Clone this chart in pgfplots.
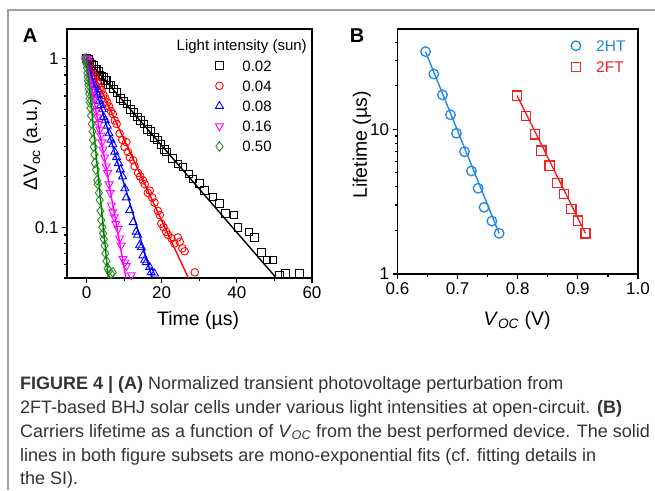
\documentclass[border=0pt]{standalone}
\usepackage{fontspec}
\setmainfont{Liberation Sans}
\usepackage{pgfplots}
\pgfplotsset{compat=1.18}
\definecolor{cred}{HTML}{FF0000}
\definecolor{cblue}{HTML}{0000FF}
\definecolor{cmag}{HTML}{FF00FF}
\definecolor{cgreen}{HTML}{2E8B2E}
\definecolor{cgline}{HTML}{008000}
\definecolor{hblue}{HTML}{2288E0}
\definecolor{fred}{HTML}{EE2222}
\definecolor{capgray}{HTML}{333333}

\pgfplotsset{
  panel/.style={
    scale only axis,
    axis line style={line width=1.6pt},
    tick align=outside,
    xtick pos=bottom, ytick pos=left,
    major tick length=5pt, minor tick length=3pt,
    every tick/.style={black, line width=1.2pt},
    tick label style={font=\fontsize{17}{17}\selectfont},
    /pgf/number format/assume math mode=true,
    label style={font=\fontsize{19.5}{19.5}\selectfont},
    clip mode=individual,
    legend image code/.code={\draw[##1] plot coordinates {(0pt,0pt)};},
  },
}

\begin{document}
\begin{tikzpicture}[x=1pt,y=1pt]
\useasboundingbox (0,0) rectangle (655,-490);
\draw[gray!75, line width=1.2pt] (8,-490) -- (8,-10) -- (655,-10);

% panel A
\begin{axis}[panel,
  at={(67pt,-278pt)}, anchor=south west,
  width=245pt, height=249pt,
  xmin=-5.2, xmax=60,
  ymode=log, ymin=0.05, ymax=1.5,
  xtick={0,20,40,60}, minor xtick={10,30,50},
  ytick={0.1,1}, yticklabels={0.1,1},
  minor ytick={0.05,0.06,0.07,0.08,0.09,0.2,0.3,0.4,0.5,0.6,0.7,0.8,0.9},
  xlabel={Time (µs)},
  ylabel={ΔV\textsubscript{oc} (a.u.)},
  xlabel style={at={(axis description cs:0.535,-0.169)}, anchor=center},
  ylabel style={at={(axis description cs:-0.143,0.534)}, anchor=center},
  legend style={draw=none, fill=none, inner sep=0pt, outer sep=0pt,
    at={(axis description cs:0.606,0.875)}, anchor=north west,
    nodes={inner sep=0pt, text height=11pt, text depth=0pt, font=\fontsize{15}{15}\selectfont},
    row sep=9.2pt, column sep=19pt},
  legend cell align=left,
]
\addplot[only marks, mark=square, mark size=3.8pt, black, line width=0.9pt] coordinates {
(0,1.0)(0.5,0.99)(0.9,0.95)(1.4,0.93)(1.8,0.91)(2.3,0.87)(2.7,0.86)(3.2,0.84)(3.6,0.80)
(4.1,0.79)(4.5,0.78)(5.0,0.74)(5.4,0.74)(5.9,0.70)(6.3,0.70)(7.2,0.66)(8.1,0.63)(9.0,0.58)
(9.9,0.56)(10.8,0.54)(11.7,0.50)(12.6,0.48)(13.5,0.45)(14.4,0.43)(15.3,0.41)(16.2,0.38)
(17.1,0.37)(18.0,0.34)(18.9,0.33)(19.8,0.31)(20.7,0.29)(21.2,0.279)(22.8,0.255)(24.3,0.238)
(25.7,0.228)(27.3,0.207)(28.3,0.194)(30.1,0.182)(31.4,0.166)(33.6,0.151)(35.4,0.138)
(37.0,0.121)(39.2,0.118)(40.3,0.100)(43.2,0.094)(44.7,0.087)(46.5,0.071)(48.0,0.064)
(49.6,0.064)(51.4,0.052)(53.0,0.053)(56.7,0.053)
};
\addlegendentry{0.02}
\addplot[only marks, mark=o, mark size=3.8pt, cred, line width=0.9pt] coordinates {
(0,1.0)(0.4,0.97)(0.8,0.92)(1.2,0.88)(1.6,0.85)(2.0,0.80)(2.4,0.78)(2.8,0.73)(3.2,0.71)
(3.6,0.67)(4.0,0.65)(4.5,0.61)(5.0,0.58)(5.5,0.55)(6.0,0.52)(6.5,0.49)(7.0,0.47)(7.5,0.43)
(8.0,0.41)(8.8,0.36)(9.5,0.33)(10.1,0.30)(10.6,0.32)(11.0,0.28)(11.5,0.26)(12.4,0.25)
(12.8,0.23)(13.7,0.21)(14.3,0.20)(15.0,0.19)(15.5,0.18)(16.3,0.16)(16.8,0.165)(17.5,0.15)
(18.1,0.14)(19.0,0.125)(19.5,0.118)(19.9,0.105)(20.5,0.10)(21.2,0.094)(21.7,0.090)
(22.6,0.086)(23.4,0.080)(24.3,0.087)(24.8,0.082)(25.5,0.075)(26.1,0.072)(28.8,0.054)
};
\addlegendentry{0.04}
\addplot[only marks, mark=triangle, mark size=4.6pt, cblue, line width=0.9pt] coordinates {
(0,1.0)(0.3,0.97)(0.6,0.92)(0.9,0.87)(1.2,0.83)(1.5,0.78)(1.8,0.75)(2.1,0.70)(2.4,0.68)
(2.7,0.63)(3.0,0.61)(3.4,0.56)(3.8,0.53)(4.2,0.50)(4.6,0.45)(5.0,0.43)(5.5,0.40)(6.0,0.36)
(6.5,0.33)(7.0,0.31)(7.5,0.28)(8.0,0.26)(8.5,0.24)(9.0,0.22)(9.6,0.20)(10.2,0.17)(10.6,0.15)
(11.5,0.126)(12.4,0.107)(13.2,0.094)(13.6,0.090)(14.1,0.078)(14.6,0.076)(15.0,0.068)
(15.5,0.064)(15.9,0.062)(16.8,0.058)(17.2,0.054)(18.1,0.053)
};
\addlegendentry{0.08}
\addplot[only marks, mark=triangle, mark size=4.6pt, mark options={rotate=180}, cmag, line width=0.9pt] coordinates {
(-0.2,1.0)(0.0,1.0)(0.2,1.0)(0.4,0.96)(0.6,0.88)(0.8,0.82)(1.0,0.78)(1.2,0.72)(1.4,0.69)
(1.6,0.64)(1.8,0.61)(2.0,0.58)(2.3,0.53)(2.6,0.49)(2.9,0.45)(3.2,0.41)(3.5,0.38)(3.8,0.35)
(4.1,0.32)(4.4,0.29)(4.8,0.26)(5.2,0.23)(5.6,0.21)(6.0,0.18)(6.3,0.16)(6.6,0.135)(7.0,0.123)
(7.4,0.115)(7.8,0.105)(8.4,0.098)(8.8,0.086)(9.2,0.078)(9.7,0.065)(10.2,0.062)(10.6,0.059)
(11.9,0.052)
};
\addlegendentry{0.16}
\addplot[only marks, mark=diamond, mark size=4.8pt, cgreen, line width=0.9pt] coordinates {
(-0.4,1.0)(-0.2,0.97)(0.0,0.93)(0.1,0.88)(0.2,0.82)(0.3,0.78)(0.4,0.74)(0.5,0.70)(0.6,0.66)
(0.7,0.62)(0.8,0.58)(0.9,0.55)(1.0,0.51)(1.2,0.46)(1.4,0.41)(1.6,0.37)(1.7,0.33)(1.9,0.30)
(2.1,0.27)(2.2,0.24)(2.5,0.22)(2.8,0.19)(3.0,0.18)(3.3,0.16)(3.5,0.145)(3.7,0.125)(3.9,0.11)
(4.2,0.10)(4.4,0.092)(4.6,0.085)(4.8,0.078)(5.0,0.070)(5.3,0.063)(5.6,0.057)(5.9,0.055)
(6.5,0.053)(7.0,0.054)
};
\addlegendentry{0.50}
% mono-exponential fits
\addplot[black, line width=1.4pt, forget plot] coordinates {(0,1)(50.5,0.05)};
\addplot[cred, line width=1.4pt, forget plot] coordinates {(0,1)(27.1,0.05)};
\addplot[cblue, line width=1.4pt, forget plot] coordinates {(0,1)(17.5,0.05)};
\addplot[cmag, line width=1.4pt, forget plot] coordinates {(0,1)(10.5,0.05)};
\addplot[cgline, line width=1.4pt, forget plot] coordinates {(0,1)(5.8,0.05)};
\end{axis}

% panel B
\begin{axis}[panel,
  at={(397.5pt,-274pt)}, anchor=south west,
  width=240.5pt, height=245pt,
  xmin=0.6, xmax=1.0,
  ymode=log, ymin=1, ymax=49.3,
  xtick={0.6,0.7,0.8,0.9,1.0}, xticklabels={0.6,0.7,0.8,0.9,1.0},
  minor xtick={0.65,0.75,0.85,0.95},
  ytick={1,10}, yticklabels={1,10},
  minor ytick={2,3,4,5,6,7,8,9,20,30,40},
  xlabel={\textit{V}\textsubscript{\textit{OC}} (V)},
  ylabel={Lifetime (µs)},
  xlabel style={at={(axis description cs:0.497,-0.188)}, anchor=center},
  ylabel style={at={(axis description cs:-0.148,0.527)}, anchor=center},
  legend style={draw=none, fill=none, inner sep=0pt, outer sep=0pt,
    at={(axis description cs:0.722,0.954)}, anchor=north west,
    nodes={inner sep=0pt, text height=11pt, text depth=0pt, font=\fontsize{15.5}{15.5}\selectfont},
    row sep=10pt, column sep=15.5pt},
  legend cell align=left,
]
\addplot[only marks, mark=o, mark size=4.8pt, hblue, line width=1.3pt] coordinates {
(0.6466,34.4)(0.6604,24.1)(0.6748,17.3)(0.6881,12.6)(0.6981,9.38)(0.7114,7.0)
(0.723,5.15)(0.734,3.91)(0.744,2.89)(0.757,2.32)(0.769,1.91)
};
\addlegendentry[text=hblue]{2HT}
\addplot[only marks, mark=square, mark size=4.6pt, fred, line width=1.3pt] coordinates {
(0.7989,17.1)(0.8133,12.4)(0.8283,9.23)(0.8394,7.11)(0.8532,5.60)(0.866,4.24)
(0.877,3.56)(0.8893,2.81)(0.9003,2.34)(0.9126,1.91)
};
\addlegendentry[text=fred]{2FT}
\addplot[hblue, line width=1.4pt, forget plot] coordinates {(0.6466,34.4)(0.769,1.91)};
\addplot[fred, line width=1.4pt, forget plot] coordinates {(0.7989,17.1)(0.9126,1.91)};
\end{axis}

% panel letters and legend title
\node[font=\bfseries\fontsize{20}{20}\selectfont] at (30,-35.5) {A};
\node[font=\bfseries\fontsize{20}{20}\selectfont] at (357,-35.5) {B};
\node[font=\fontsize{15}{15}\selectfont] at (241.7,-46.7) {Light intensity (sun)};

% caption
\begin{scope}[every node/.style={anchor=base west, inner sep=0pt, text=capgray, font=\fontsize{18}{18}\selectfont}]
\node at (20,-389) {\textbf{FIGURE 4 | (A)} Normalized transient photovoltage perturbation from};
\node at (20,-413) {2FT-based BHJ solar cells under various light intensities at open-circuit. \textbf{(B)}};
\node at (20,-437) {Carriers lifetime as a function of \textit{V}\textsubscript{\textit{OC}} from the best performed device. The solid};
\node at (20,-461) {lines in both figure subsets are mono-exponential fits (cf. fitting details in};
\node at (20,-484) {the SI).};
\end{scope}
\end{tikzpicture}
\end{document}
